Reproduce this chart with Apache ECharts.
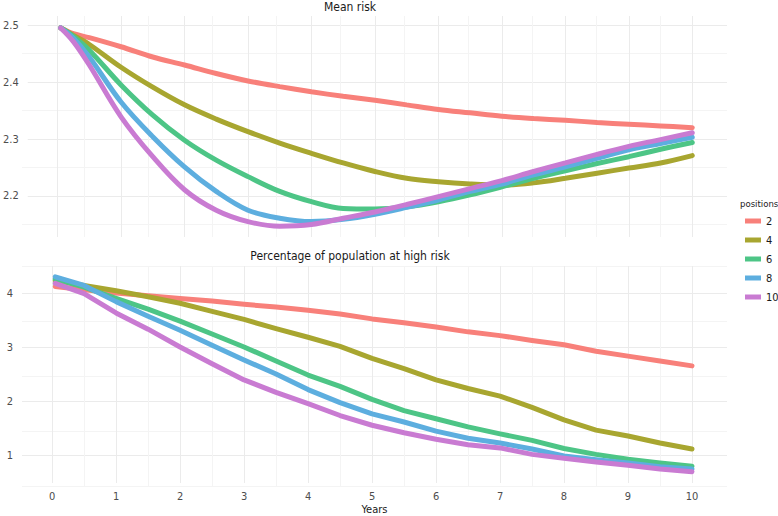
<!DOCTYPE html>
<html><head><meta charset="utf-8">
<script src="https://cdn.jsdelivr.net/npm/echarts@6/dist/echarts.min.js"></script>
<style>
html,body{margin:0;padding:0;background:#fff}
#c{width:778px;height:516px}
#c svg text{font-family:'DejaVu Sans Condensed','DejaVu Sans',sans-serif !important;font-stretch:condensed !important;}
</style>
</head><body><div id="c"></div>
<script>
// ---- data ----
const positions = ['2', '4', '6', '8', '10'];
const colors = ['#F8807A', '#A8A630', '#4DC586', '#5DAEDF', '#C97BD2'];

const yearsTop = [0.05, 0.25, 0.5, 1, 1.5, 2, 2.5, 3, 3.5, 4, 4.5, 5, 5.5, 6, 6.5, 7, 7.5, 8, 8.5, 9, 9.5, 10];
const meanRisk2  = [2.495, 2.485, 2.478, 2.462, 2.444, 2.430, 2.415, 2.402, 2.392, 2.383, 2.375, 2.368, 2.360, 2.352, 2.346, 2.340, 2.336, 2.333, 2.329, 2.326, 2.323, 2.320];
const meanRisk4  = [2.495, 2.482, 2.466, 2.426, 2.391, 2.360, 2.335, 2.313, 2.293, 2.275, 2.258, 2.243, 2.231, 2.225, 2.221, 2.219, 2.223, 2.231, 2.240, 2.249, 2.258, 2.271];
const meanRisk6  = [2.495, 2.480, 2.456, 2.395, 2.342, 2.298, 2.263, 2.234, 2.208, 2.190, 2.178, 2.177, 2.181, 2.190, 2.202, 2.216, 2.231, 2.244, 2.257, 2.269, 2.282, 2.294];
const meanRisk8  = [2.495, 2.477, 2.444, 2.365, 2.304, 2.251, 2.208, 2.175, 2.161, 2.155, 2.159, 2.168, 2.180, 2.193, 2.208, 2.221, 2.237, 2.251, 2.266, 2.281, 2.292, 2.303];
const meanRisk10 = [2.495, 2.471, 2.430, 2.339, 2.269, 2.211, 2.175, 2.155, 2.147, 2.150, 2.161, 2.172, 2.185, 2.199, 2.213, 2.227, 2.243, 2.258, 2.273, 2.287, 2.299, 2.311];

const yearsBottom = [0.05, 0.5, 1, 1.5, 2, 2.5, 3, 3.5, 4, 4.5, 5, 5.5, 6, 6.5, 7, 7.5, 8, 8.5, 9, 9.5, 10];
const highRisk2  = [4.13, 4.07, 4.01, 3.96, 3.91, 3.86, 3.80, 3.75, 3.69, 3.62, 3.53, 3.46, 3.38, 3.29, 3.22, 3.13, 3.05, 2.93, 2.84, 2.75, 2.66];
const highRisk4  = [4.24, 4.15, 4.05, 3.94, 3.82, 3.67, 3.52, 3.35, 3.19, 3.02, 2.80, 2.61, 2.40, 2.24, 2.10, 1.89, 1.66, 1.47, 1.36, 1.23, 1.12];
const highRisk6  = [4.27, 4.12, 3.91, 3.71, 3.49, 3.25, 3.01, 2.75, 2.49, 2.28, 2.04, 1.83, 1.68, 1.53, 1.40, 1.28, 1.13, 1.02, 0.93, 0.86, 0.80];
const highRisk8  = [4.31, 4.15, 3.85, 3.58, 3.32, 3.04, 2.77, 2.51, 2.22, 1.98, 1.77, 1.62, 1.45, 1.32, 1.23, 1.12, 0.99, 0.92, 0.86, 0.79, 0.75];
const highRisk10 = [4.19, 4.00, 3.64, 3.34, 3.01, 2.70, 2.40, 2.17, 1.96, 1.74, 1.56, 1.42, 1.30, 1.20, 1.14, 1.02, 0.95, 0.88, 0.82, 0.75, 0.70];

const xMajorTicks = [0, 1, 2, 3, 4, 5, 6, 7, 8, 9, 10];
const xMinorTicks = [0.5, 1.5, 2.5, 3.5, 4.5, 5.5, 6.5, 7.5, 8.5, 9.5];
const yTopMajor = [2.2, 2.3, 2.4, 2.5];
const yTopMinor = [2.15, 2.25, 2.35, 2.45];
const yBotMajor = [1, 2, 3, 4];
const yBotMinor = [0.5, 1.5, 2.5, 3.5, 4.5];

const panelTitles = ['Mean risk', 'Percentage of population at high risk'];
const xName = 'Years';
const legendTitle = 'positions';

// ---- chart ----
const FONT = "'DejaVu Sans Condensed', 'DejaVu Sans', sans-serif";
const topSeries = [meanRisk2, meanRisk4, meanRisk6, meanRisk8, meanRisk10];
const botSeries = [highRisk2, highRisk4, highRisk6, highRisk8, highRisk10];
const zip = (xs, ys) => xs.map((x, i) => [x, ys[i]]);

const XMIN = -0.47, XMAX = 10.547;
function xAx(grid, ticks, major, labels) {
  return {
    type: 'value', gridIndex: grid, min: XMIN, max: XMAX,
    axisLine: { show: false },
    axisTick: { show: false, customValues: ticks },
    axisLabel: labels ? { show: true, customValues: xMajorTicks, color: '#4D4D4D', fontSize: 11, fontFamily: FONT, margin: 8 } : { show: false },
    splitLine: { show: true, lineStyle: { color: major ? '#EBEBEB' : '#F4F4F4', width: 1 } },
    name: labels ? xName : '', nameLocation: 'middle', nameGap: 21,
    nameTextStyle: { color: '#1A1A1A', fontSize: 11, fontFamily: FONT }
  };
}
function yAx(grid, min, max, ticks, major, labelVals) {
  return {
    type: 'value', gridIndex: grid, min: min, max: max,
    axisLine: { show: false },
    axisTick: { show: false, customValues: ticks },
    axisLabel: labelVals ? { show: true, customValues: labelVals, color: '#4D4D4D', fontSize: 11, fontFamily: FONT, margin: 9 } : { show: false },
    splitLine: { show: true, lineStyle: { color: major ? '#EBEBEB' : '#F4F4F4', width: 1 } }
  };
}

const series = [];
positions.forEach((p, i) => {
  series.push({
    name: p, type: 'line', xAxisIndex: 0, yAxisIndex: 0, showSymbol: false, symbol: 'none',
    smooth: 0.35, data: zip(yearsTop, topSeries[i]), color: colors[i],
    lineStyle: { width: 5, color: colors[i], cap: 'round' }, z: 10 + i
  });
});
positions.forEach((p, i) => {
  series.push({
    name: p, type: 'line', xAxisIndex: 1, yAxisIndex: 1, showSymbol: false, symbol: 'none',
    smooth: false, data: zip(yearsBottom, botSeries[i]), color: colors[i],
    lineStyle: { width: 5, color: colors[i], cap: 'round', join: 'round' }, z: 10 + i
  });
});

const chart = echarts.init(document.getElementById('c'), null, { renderer: 'svg' });
chart.setOption({
  animation: false,
  backgroundColor: '#ffffff',
  color: colors,
  grid: [
    { left: 22, top: 16, width: 705, height: 221, containLabel: false },
    { left: 22, top: 266, width: 705, height: 221, containLabel: false },
    { left: 22, top: 16, width: 705, height: 221, containLabel: false },
    { left: 22, top: 266, width: 705, height: 221, containLabel: false }
  ],
  xAxis: [
    xAx(0, xMajorTicks, true, false),
    xAx(1, xMajorTicks, true, true),
    xAx(2, xMinorTicks, false, false),
    xAx(3, xMinorTicks, false, false)
  ],
  yAxis: [
    yAx(0, 2.128, 2.516, yTopMajor, true, yTopMajor),
    yAx(1, 0.49, 4.51, yBotMajor, true, yBotMajor),
    yAx(2, 2.128, 2.516, yTopMinor, false, null),
    yAx(3, 0.49, 4.51, yBotMinor, false, null)
  ],
  legend: {
    orient: 'vertical', left: 740, top: 209,
    data: positions, icon: 'rect', itemWidth: 16, itemHeight: 5, itemGap: 5,
    textStyle: { fontFamily: FONT, fontSize: 11, color: '#1A1A1A', lineHeight: 14 },
    selectedMode: false
  },
  graphic: [
    { type: 'text', x: 350, y: 7, style: { text: panelTitles[0], fontFamily: FONT, fontSize: 12, fill: '#1A1A1A', align: 'center', verticalAlign: 'middle' } },
    { type: 'text', x: 350, y: 256, style: { text: panelTitles[1], fontFamily: FONT, fontSize: 12, fill: '#1A1A1A', align: 'center', verticalAlign: 'middle' } },
    { type: 'text', x: 740, y: 203, style: { text: legendTitle, fontFamily: FONT, fontSize: 9.5, fill: '#1A1A1A', align: 'left', verticalAlign: 'middle' } }
  ],
  series: series
});
</script>
</body></html>
